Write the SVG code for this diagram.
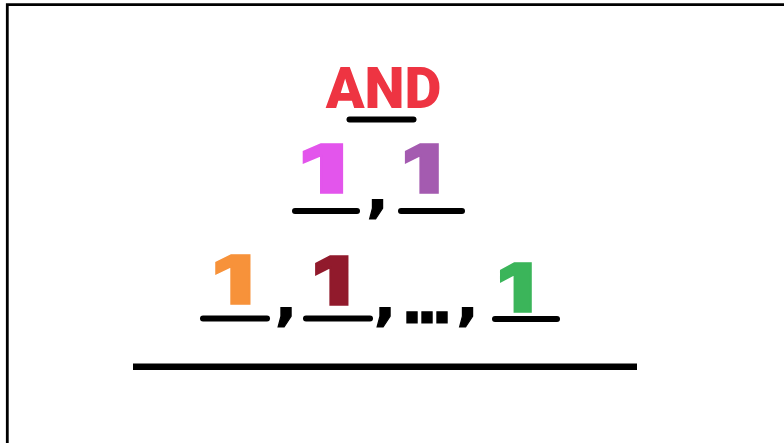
<svg xmlns="http://www.w3.org/2000/svg" width="784" height="443" viewBox="0 0 784 443">
<style>
  text { font-family: Roboto, sans-serif; font-weight: 900; }
  .d { text-anchor: middle; }
  .one { font-family: Inter, Roboto, sans-serif; font-size: 68px; stroke-width: 1.5; }
  .p { font-family: 'DejaVu Sans', sans-serif; font-weight: 700; font-size: 58px; fill: #000; stroke: #000; stroke-width: 1.2; }
  .ul { stroke: #000; stroke-width: 6; stroke-linecap: round; fill: none; }
</style>
<rect width="784" height="443" fill="#fff"/>
<path d="M7.3 443 V4.6 H784" fill="none" stroke="#000" stroke-width="2.8"/>
<g id="and">
  <text class="d" x="383.5" y="108" font-size="57" fill="#EE3442">AND</text>
</g>
<g id="row2">
  <text class="d one" transform="translate(323,193) scale(1.55,1)" fill="#E355EC" stroke="#E355EC">1</text>
  <text class="p" x="377.5" y="211" text-anchor="middle">,</text>
  <text class="d one" transform="translate(422,193) scale(1.3,1)" fill="#A45BB0" stroke="#A45BB0">1</text>
</g>
<g id="row3">
  <text class="d one" transform="translate(233,304) scale(1.35,1)" fill="#F7923A" stroke="#F7923A" font-size="72">1</text>
  <text class="p" x="286" y="319" text-anchor="middle">,</text>
  <text class="d one" transform="translate(332,305) scale(1.28,1)" fill="#911A2C" stroke="#911A2C" font-size="74">1</text>
  <text class="p" x="385" y="319" text-anchor="middle">,</text>
  <text class="p" x="401" y="323" letter-spacing="-7">...</text>
  <text class="p" x="467.5" y="319" text-anchor="middle">,</text>
  <text class="d one" transform="translate(516,312) scale(1.22,1)" fill="#3BB55A" stroke="#3BB55A" font-size="74">1</text>
</g>
<g id="connectors">
  <line class="ul" x1="349.5" y1="119.5" x2="413.5" y2="119.5" stroke-width="5"/>
  <line class="ul" x1="295" y1="211" x2="357" y2="211"/>
  <line class="ul" x1="401" y1="211" x2="462" y2="211"/>
  <line class="ul" x1="203" y1="318.5" x2="267" y2="318.5"/>
  <line class="ul" x1="306" y1="318.5" x2="370" y2="318.5"/>
  <line class="ul" x1="495" y1="319" x2="557" y2="319"/>
  <rect x="133" y="363.5" width="504" height="6.5" fill="#000"/>
</g>
</svg>
